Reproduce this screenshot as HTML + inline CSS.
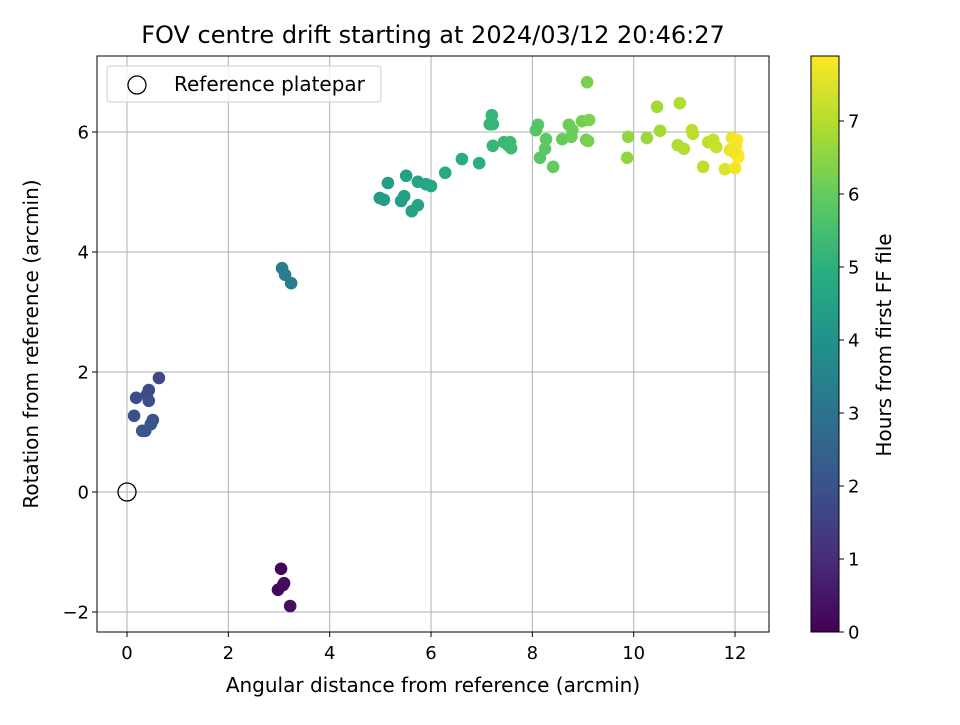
<!DOCTYPE html>
<html><head><meta charset="utf-8"><style>
body{margin:0;background:#fff}
svg text{font-family:"DejaVu Sans","Liberation Sans",sans-serif;fill:#000}
</style></head><body>
<svg id="chart" width="960" height="720" viewBox="0 0 960 720" xmlns="http://www.w3.org/2000/svg">
<defs><linearGradient id="vir" x1="0" y1="1" x2="0" y2="0">
<stop offset="0" stop-color="#440154"/><stop offset="0.125" stop-color="#472d7b"/><stop offset="0.25" stop-color="#3b528b"/><stop offset="0.375" stop-color="#2c728e"/><stop offset="0.5" stop-color="#21918c"/><stop offset="0.625" stop-color="#28ae80"/><stop offset="0.75" stop-color="#5ec962"/><stop offset="0.875" stop-color="#addc30"/><stop offset="1" stop-color="#fde725"/></linearGradient></defs>
<rect width="960" height="720" fill="#fff"/>
<text x="433" y="43" font-size="24" text-anchor="middle">FOV centre drift starting at 2024/03/12 20:46:27</text>
<g id="grid"></g><g id="pts"></g>
<rect x="97" y="56" width="672" height="576" fill="none" stroke="#000" stroke-width="1"/>
<g id="ticks"></g>
<text x="433" y="692" font-size="20" text-anchor="middle">Angular distance from reference (arcmin)</text>
<text transform="translate(38,344) rotate(-90)" font-size="20" text-anchor="middle">Rotation from reference (arcmin)</text>
<g>
<rect x="107" y="66" width="274" height="36" rx="3" fill="#fff" fill-opacity="0.8" stroke="#ccc"/>
<circle cx="137" cy="85" r="9" fill="none" stroke="#000" stroke-width="1.3"/>
<text x="174" y="91" font-size="20">Reference platepar</text></g>
<rect x="811" y="56" width="28" height="576" fill="url(#vir)" stroke="#000"/>
<g id="cbt"></g>
<text transform="translate(891,345) rotate(-90)" font-size="20" text-anchor="middle">Hours from first FF file</text>
</svg>
<script>
const xs=[3.04,2.98,3.08,3.10,3.22, 0.63,0.43,0.39,0.18,0.43,0.14,0.51,0.47,0.30,0.36, 3.06,3.12,3.24,
4.99,5.07,5.15,5.41,5.47,5.51,5.62,5.74,5.74,5.90,6.0,6.28,6.61,6.95,7.16,7.20,7.22,7.22,7.44,7.52,7.58,7.56,
8.11,8.07,8.15,8.25,8.27,8.41,8.59,8.72,8.77,8.79,8.98,9.08,9.12,9.06,9.10,
9.87,9.89,10.26,10.46,10.52,10.91,10.87,10.99,11.15,11.17,11.37,11.47,11.57,11.63,
11.80,11.90,11.94,12.0,12.04,12.06,12.02,12.06,11.96];
const ys=[-1.28,-1.63,-1.55,-1.52,-1.90, 1.90,1.70,1.62,1.57,1.52,1.27,1.20,1.13,1.02,1.02, 3.73,3.62,3.48,
4.90,4.87,5.15,4.85,4.93,5.27,4.68,4.78,5.17,5.13,5.10,5.32,5.55,5.48,6.13,6.28,6.13,5.77,5.83,5.78,5.73,5.83,
6.12,6.03,5.57,5.72,5.88,5.42,5.88,6.12,5.92,6.03,6.18,6.83,6.20,5.87,5.85,
5.57,5.92,5.90,6.42,6.02,6.48,5.78,5.72,6.03,5.97,5.42,5.83,5.87,5.75,
5.38,5.70,5.90,5.40,5.87,5.62,5.77,5.58,5.67];
const hours=[0.10,0.15,0.20,0.25,0.30, 1.70,1.75,1.80,1.85,1.90,1.95,2.00,2.05,2.10,2.15, 3.25,3.30,3.35,
4.30,4.33,4.36,4.40,4.43,4.46,4.50,4.55,4.58,4.62,4.66,4.75,4.85,4.95,5.15,5.18,5.20,5.22,5.28,5.32,5.36,5.34,
5.80,5.78,5.84,5.88,5.90,5.95,6.02,6.08,6.10,6.12,6.20,6.25,6.28,6.23,6.26,
6.55,6.58,6.65,6.75,6.80,6.95,6.92,6.98,7.05,7.07,7.12,7.18,7.22,7.25,
7.50,7.65,7.70,7.75,7.80,7.86,7.82,7.88,7.72];
const xTicks=[0,2,4,6,8,10,12], yTicks=[-2,0,2,4,6], cTicks=[0,1,2,3,4,5,6,7];
const X=v=>127+v*50.67, Y=v=>492-v*60, C=v=>632-v*73;
const VMAX=7.89;
const stops=["#440154","#472d7b","#3b528b","#2c728e","#21918c","#28ae80","#5ec962","#addc30","#fde725"];
function vir(t){t=Math.max(0,Math.min(1,t))*8;const i=Math.min(7,Math.floor(t)),f=t-i;
const a=stops[i],b=stops[i+1];const p=(s,k)=>parseInt(s.substr(1+2*k,2),16);
return "rgb("+[0,1,2].map(k=>Math.round(p(a,k)+(p(b,k)-p(a,k))*f)).join(",")+")";}
const NS="http://www.w3.org/2000/svg";
function mk(tag,attrs,parent,txt){const e=document.createElementNS(NS,tag);for(const k in attrs)e.setAttribute(k,attrs[k]);if(txt!==undefined)e.textContent=txt;document.getElementById(parent).appendChild(e);return e;}
xTicks.forEach(v=>{
 const g=mk("line",{x1:X(v),x2:X(v),y1:56,y2:632,stroke:"#b0b0b0","stroke-width":1},"grid");
 
 
 mk("line",{x1:X(v),x2:X(v),y1:632,y2:637,stroke:"#000"},"ticks");
 const t=mk("text",{x:X(v),y:659,"font-size":18,"text-anchor":"middle"},"ticks",String(v));
 
 
});
yTicks.forEach(v=>{
 const g=mk("line",{x1:97,x2:769,y1:Y(v),y2:Y(v),stroke:"#b0b0b0","stroke-width":1},"grid");
 
 
 mk("line",{x1:92,x2:97,y1:Y(v),y2:Y(v),stroke:"#000"},"ticks");
 const t=mk("text",{x:89,y:Y(v)+6.5,"font-size":18,"text-anchor":"end"},"ticks",v<0?"\u2212"+(-v):String(v));
 
 
});
cTicks.forEach(v=>{
 mk("line",{x1:839,x2:844,y1:C(v),y2:C(v),stroke:"#000"},"cbt");
 const t=mk("text",{x:848,y:C(v)+6.5,"font-size":18},"cbt",String(v));
 
 
});
xs.forEach((x,i)=>{
 const c=mk("circle",{cx:X(x),cy:Y(ys[i]),r:6.3,fill:vir(hours[i]/VMAX)},"pts");
 
 
});
const r=mk("circle",{cx:X(0),cy:Y(0),r:9,fill:"none",stroke:"#000","stroke-width":1.3},"pts");


</script>
</body></html>
